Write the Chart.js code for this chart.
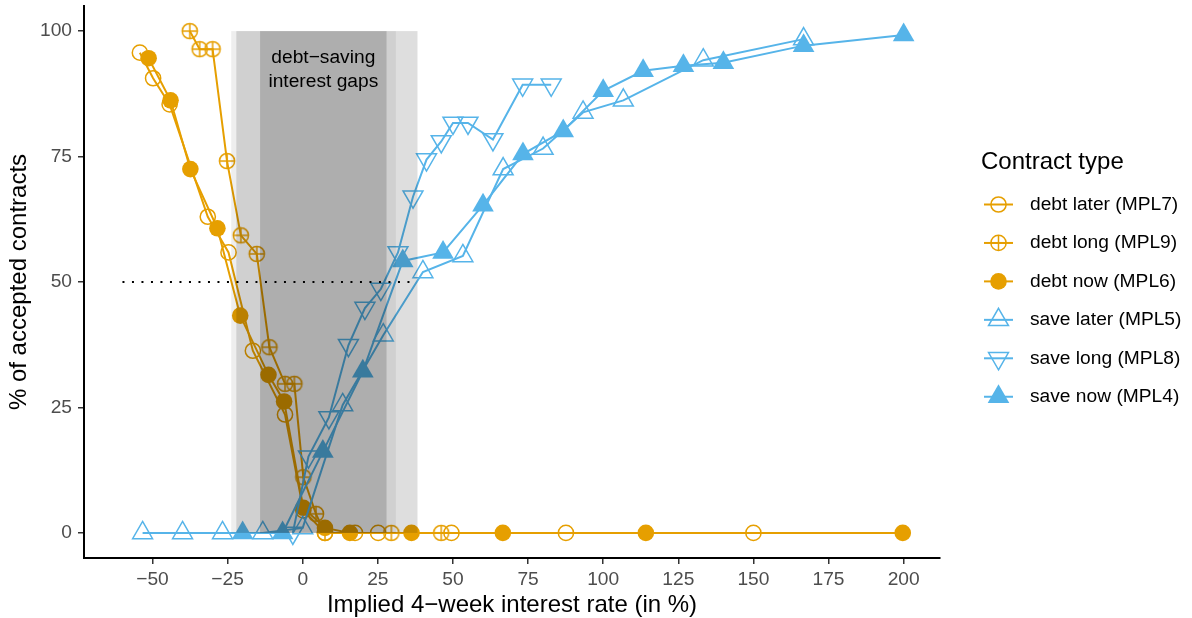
<!DOCTYPE html>
<html>
<head>
<meta charset="utf-8">
<script src="https://cdn.jsdelivr.net/npm/chart.js@4.4.1/dist/chart.umd.min.js"></script>
<style>
  html, body { margin: 0; padding: 0; background: #fff; }
  #wrap { width: 1192px; height: 618px; position: relative; }
</style>
</head>
<body>
<div id="wrap"><canvas id="chart"></canvas></div>
<script>
// values
const debtLaterX = [-54.2, -49.8, -44.3, -31.6, -24.7, -16.6, -5.9, 0.2, 7.4, 17.4, 25.1, 49.5, 87.6, 150];
const debtLaterY = [95.7, 90.6, 85.4, 63.0, 55.9, 36.3, 23.6, 4.5, 0, 0, 0, 0, 0, 0];

const debtLongX = [-37.6, -34.3, -30.0, -25.2, -20.6, -15.3, -11.1, -5.9, -2.8, 0.2, 4.4, 7.4, 29.5, 46.1];
const debtLongY = [100, 96.4, 96.4, 74.1, 59.3, 55.6, 37.0, 29.7, 29.7, 11.1, 3.8, 0, 0, 0];

const debtNowX = [-51.3, -44.0, -37.4, -28.4, -20.8, -11.4, -6.2, 0.2, 7.4, 15.7, 36.2, 66.6, 114.2, 199.7];
const debtNowY = [94.6, 86.2, 72.5, 60.7, 43.3, 31.5, 26.2, 5.0, 1.0, 0, 0, 0, 0, 0];

const saveLaterX = [-53.3, -40.0, -26.7, -13.3, 0, 13.3, 26.8, 40.0, 53.3, 66.7, 80.0, 93.3, 106.7, 133.3, 166.7];
const saveLaterY = [0, 0, 0, 0, 1.0, 25.5, 39.4, 52.0, 55.2, 72.5, 76.6, 83.8, 86.2, 94.2, 98.4];

const saveLongX = [-3.3, 1.9, 8.7, 15.2, 20.7, 26.0, 31.7, 36.7, 41.2, 46.1, 50.0, 55.0, 63.3, 73.2, 82.7];
const saveLongY = [0, 15.2, 23.0, 37.4, 44.8, 48.6, 55.9, 67.0, 74.4, 78.0, 81.7, 81.7, 78.4, 89.3, 89.3];

const saveNowX = [-20.0, -6.7, 6.7, 20.0, 33.3, 46.7, 60.0, 73.3, 86.7, 100, 113.3, 126.7, 140, 166.7, 200];
const saveNowY = [0, 0, 16.2, 32.2, 54.2, 55.9, 65.3, 75.5, 80.1, 88.1, 92.1, 93.1, 93.7, 97.1, 99.2];

// dotted 50% reference line
const refLineX = [-60, 38];
const refLineY = [50, 50];

// debt-saving gap bands (now, later, long)
const gapLow = [-23.8, -22.1, -14.2];
const gapHigh = [31.0, 38.2, 27.9];
const gapTop = 100;
const gapLabel = ['debt\u2212saving', 'interest gaps'];
const gapLabelY = 92.3;

const xTicks = [-50, -25, 0, 25, 50, 75, 100, 125, 150, 175, 200];
const yTicks = [0, 25, 50, 75, 100];

const seriesNames = ['debt later (MPL7)', 'debt long (MPL9)', 'debt now (MPL6)',
  'save later (MPL5)', 'save long (MPL8)', 'save now (MPL4)'];

const ORANGE = '#E69F00';
const BLUE = '#56B4E9';
const gapAlpha = [0.065, 0.13, 0.165];

function pts(xs, ys) {
  return xs.map((x, i) => ({ x: x, y: ys[i] }));
}

function drawMarker(g, kind, x, y, color) {
  g.save();
  g.strokeStyle = color;
  g.fillStyle = color;
  g.lineWidth = 1.5;
  if (kind === 'circle' || kind === 'circlePlus') {
    g.beginPath();
    g.arc(x, y, 7.6, 0, Math.PI * 2);
    g.stroke();
    if (kind === 'circlePlus') {
      g.beginPath();
      g.moveTo(x - 7.6, y); g.lineTo(x + 7.6, y);
      g.moveTo(x, y - 7.6); g.lineTo(x, y + 7.6);
      g.stroke();
    }
  } else if (kind === 'dot') {
    g.beginPath();
    g.arc(x, y, 8.3, 0, Math.PI * 2);
    g.fill();
  } else {
    const r = kind === 'triFill' ? 12.5 : 11.5;
    const s = kind === 'triDown' ? -1 : 1;
    g.beginPath();
    g.moveTo(x, y - s * r);
    g.lineTo(x + r * Math.sqrt(3) / 2, y + s * r / 2);
    g.lineTo(x - r * Math.sqrt(3) / 2, y + s * r / 2);
    g.closePath();
    if (kind === 'triFill') g.fill(); else g.stroke();
  }
  g.restore();
}

// circle with a plus, as an image point style
const plusCircle = document.createElement('canvas');
plusCircle.width = 20;
plusCircle.height = 20;
drawMarker(plusCircle.getContext('2d'), 'circlePlus', 10, 10, ORANGE);

const seriesKinds = ['circle', 'circlePlus', 'dot', 'tri', 'triDown', 'triFill'];
const seriesColors = [ORANGE, ORANGE, ORANGE, BLUE, BLUE, BLUE];

function series(label, data, color, extra, order) {
  return Object.assign({
    label: label,
    data: data,
    showLine: true,
    borderColor: color,
    backgroundColor: 'rgba(0,0,0,0)',
    pointBorderColor: color,
    borderWidth: 2,
    pointBorderWidth: 1.5,
    order: order
  }, extra);
}

const gapsPlugin = {
  id: 'gaps',
  afterDatasetsDraw(chart) {
    const { ctx, chartArea, scales } = chart;
    const x = scales.x, y = scales.y;
    ctx.save();
    ctx.beginPath();
    ctx.rect(chartArea.left, chartArea.top, chartArea.width, chartArea.height);
    ctx.clip();
    const top = y.getPixelForValue(gapTop);
    const bot = y.getPixelForValue(0);
    gapLow.forEach((lo, i) => {
      const x0 = x.getPixelForValue(lo);
      const x1 = x.getPixelForValue(gapHigh[i]);
      ctx.fillStyle = 'rgba(0,0,0,' + gapAlpha[i] + ')';
      ctx.fillRect(x0, top, x1 - x0, bot - top);
    });
    const cx = x.getPixelForValue((gapLow[2] + gapHigh[2]) / 2);
    const cy = y.getPixelForValue(gapLabelY);
    ctx.fillStyle = '#000';
    ctx.font = "19.2px 'Liberation Sans', Arial, sans-serif";
    ctx.textAlign = 'center';
    ctx.textBaseline = 'middle';
    ctx.fillText(gapLabel[0], cx, cy - 11.8);
    ctx.fillText(gapLabel[1], cx, cy + 11.8);
    ctx.restore();
  },
  afterDraw(chart) {
    const ctx = chart.ctx;
    ctx.save();
    ctx.fillStyle = '#000';
    ctx.textBaseline = 'middle';
    ctx.textAlign = 'left';
    ctx.font = "24px 'Liberation Sans', Arial, sans-serif";
    ctx.fillText('Contract type', 981, 162);
    ctx.font = "19.2px 'Liberation Sans', Arial, sans-serif";
    seriesNames.forEach((name, i) => {
      const ry = 204.5 + i * 38.45;
      ctx.strokeStyle = seriesColors[i];
      ctx.lineWidth = 2;
      ctx.beginPath();
      ctx.moveTo(984, ry);
      ctx.lineTo(1013, ry);
      ctx.stroke();
      drawMarker(ctx, seriesKinds[i], 998.5, ry, seriesColors[i]);
      ctx.fillStyle = '#000';
      ctx.fillText(name, 1030, ry);
    });
    ctx.restore();
  }
};

Chart.defaults.font.family = "'Liberation Sans', Arial, sans-serif";

new Chart(document.getElementById('chart'), {
  type: 'scatter',
  data: {
    datasets: [
      series(seriesNames[0], pts(debtLaterX, debtLaterY), ORANGE,
        { pointStyle: 'circle', pointRadius: 7.6 }, 6),
      series(seriesNames[1], pts(debtLongX, debtLongY), ORANGE,
        { pointStyle: plusCircle, pointRadius: 8 }, 5),
      series(seriesNames[2], pts(debtNowX, debtNowY), ORANGE,
        { pointStyle: 'circle', pointRadius: 8.3, pointBackgroundColor: ORANGE, pointBorderWidth: 0 }, 4),
      series(seriesNames[3], pts(saveLaterX, saveLaterY), BLUE,
        { pointStyle: 'triangle', pointRadius: 11.5 }, 3),
      series(seriesNames[4], pts(saveLongX, saveLongY), BLUE,
        { pointStyle: 'triangle', pointRotation: 180, pointRadius: 11.5 }, 2),
      series(seriesNames[5], pts(saveNowX, saveNowY), BLUE,
        { pointStyle: 'triangle', pointRadius: 12.5, pointBackgroundColor: BLUE, pointBorderWidth: 0 }, 1),
      {
        label: 'ref',
        data: pts(refLineX, refLineY),
        showLine: true,
        borderColor: '#000',
        borderWidth: 2,
        borderDash: [2, 7.5],
        pointRadius: 0,
        order: 0
      }
    ]
  },
  options: {
    responsive: true,
    maintainAspectRatio: false,
    animation: false,
    devicePixelRatio: 1,
    events: [],
    layout: { autoPadding: false, padding: { top: 6, right: 252, bottom: 0, left: 0 } },
    plugins: {
      legend: { display: false },
      tooltip: { enabled: false }
    },
    scales: {
      x: {
        type: 'linear',
        min: -72.8,
        max: 212.1,
        afterFit: (s) => { s.height = 60; s.paddingLeft = 0; s.paddingRight = 0; },
        afterBuildTicks: (s) => { s.ticks = xTicks.map((v) => ({ value: v })); },
        ticks: {
          color: '#4D4D4D',
          font: { size: 19.2 },
          padding: 4,
          autoSkip: false,
          maxRotation: 0,
          callback: (v) => String(v).replace('-', '\u2212')
        },
        grid: { drawOnChartArea: false, drawTicks: true, tickLength: 6, tickColor: '#333', lineWidth: 1.5 },
        border: { display: true, color: '#000', width: 2 },
        title: {
          display: true,
          text: 'Implied 4\u2212week interest rate (in %)',
          color: '#000',
          font: { size: 24, lineHeight: 1 },
          padding: { top: 0, bottom: 1 }
        }
      },
      y: {
        type: 'linear',
        min: -5,
        max: 105,
        afterFit: (s) => { s.width = 84; s.paddingTop = 0; s.paddingBottom = 0; },
        afterBuildTicks: (s) => { s.ticks = yTicks.map((v) => ({ value: v })); },
        ticks: { color: '#4D4D4D', font: { size: 19.2 }, padding: 6 },
        grid: { drawOnChartArea: false, drawTicks: true, tickLength: 6, tickColor: '#333', lineWidth: 1.5 },
        border: { display: true, color: '#000', width: 2 },
        title: {
          display: true,
          text: '% of accepted contracts',
          color: '#000',
          font: { size: 24, lineHeight: 1 },
          padding: { top: 7, bottom: 0 }
        }
      }
    }
  },
  plugins: [gapsPlugin]
});
</script>
</body>
</html>
